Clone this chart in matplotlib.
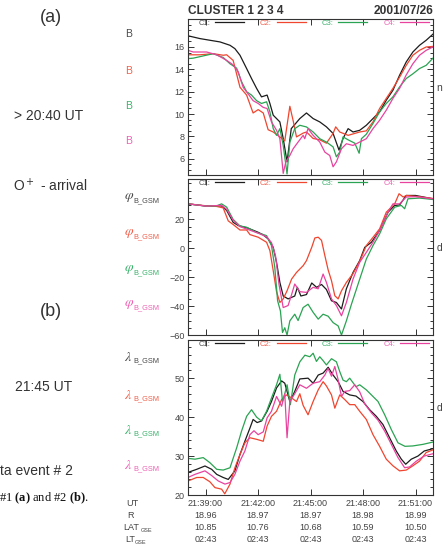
import matplotlib.pyplot as plt
from matplotlib.ticker import MultipleLocator
import matplotlib.transforms as mtransforms

plt.rcParams['font.family'] = ['Liberation Sans', 'DejaVu Sans']
plt.rcParams['mathtext.fontset'] = 'custom'
plt.rcParams['mathtext.rm'] = 'Liberation Serif'
plt.rcParams['mathtext.bf'] = 'Liberation Serif:bold'

# time axis: minutes after 21:38:00
tick_min = [1, 4, 7, 10, 13]
ut_labels = ['21:39:00', '21:42:00', '21:45:00', '21:48:00', '21:51:00']
r_values = ['18.96', '18.97', '18.97', '18.98', '18.99']
lat_values = ['10.85', '10.76', '10.68', '10.59', '10.50']
lt_values = ['02:43', '02:43', '02:43', '02:43', '02:43']

# |B| (nT)
b1_t = [0, 0.68, 1.25, 1.83, 2.40, 2.68, 2.97, 3.35, 3.63, 3.92, 4.20, 4.52, 4.68, 4.87, 5.06, 5.25, 5.44,
        5.66, 5.90, 6.39, 6.77, 7.15, 7.53, 7.91, 8.29, 8.63, 8.86, 9.15, 9.43, 9.81, 10.19, 10.57, 10.95,
        11.33, 11.71, 12.09, 12.47, 12.85, 13.23, 13.61, 14.0]
b1 = [17.0, 16.75, 16.6, 16.45, 16.15, 15.85, 15.26, 14.07, 13.18, 12.3, 11.54, 11.7, 10.95, 9.9, 9.6, 9.3,
      7.82, 5.73, 8.7, 9.6, 10.1, 9.6, 9.3, 8.86, 8.27, 6.78, 7.82, 8.7, 8.4, 8.55, 9.0, 9.6, 10.2, 11.24,
      12.13, 13.47, 14.66, 15.55, 16.15, 16.6, 17.15]
b2_t = [0, 0.68, 1.44, 2.01, 2.21, 2.58, 2.97, 3.35, 3.72, 4.01, 4.30, 4.58, 4.87, 5.25, 5.53, 5.66, 5.82,
        6.01, 6.20, 6.58, 6.77, 7.15, 7.53, 7.91, 8.29, 8.44, 8.67, 9.15, 9.81, 10.19, 10.57, 10.95, 11.33,
        11.71, 12.09, 12.47, 12.85, 13.23, 13.61, 14.0]
b2 = [15.3, 15.3, 15.4, 15.26, 15.3, 14.8, 12.4, 11.7, 10.1, 10.4, 10.1, 8.6, 8.4, 7.96, 7.6, 9.0, 10.7,
      9.4, 7.96, 8.3, 8.4, 7.82, 7.7, 7.4, 8.27, 8.86, 8.4, 8.1, 8.4, 8.5, 9.3, 10.5, 11.4, 12.3, 13.3,
      14.36, 15.26, 15.7, 16.0, 16.05]
b3_t = [0, 0.30, 1.44, 2.01, 2.40, 2.78, 3.06, 3.35, 3.63, 3.92, 4.20, 4.49, 4.68, 4.87, 5.06, 5.25, 5.44,
        5.66, 5.82, 6.10, 6.39, 6.77, 7.15, 7.53, 7.91, 8.29, 8.48, 8.67, 8.86, 9.15, 9.53, 9.78, 9.91,
        10.19, 10.57, 10.95, 11.33, 11.71, 12.09, 12.47, 12.85, 13.23, 13.61, 14.0]
b3 = [14.96, 15.0, 15.4, 15.06, 14.5, 14.1, 12.9, 12.0, 11.7, 11.2, 10.95, 11.1, 10.2, 8.7, 8.1, 8.7, 7.2,
      4.65, 7.5, 8.7, 9.0, 8.85, 8.4, 7.8, 7.5, 7.07, 6.18, 6.6, 7.96, 7.7, 7.4, 6.5, 7.8, 8.2, 9.16,
      10.2, 10.95, 11.54, 12.43, 13.18, 13.6, 14.07, 14.36, 15.0]
b4_t = [0, 0.30, 1.07, 1.64, 2.21, 2.58, 2.87, 3.15, 3.44, 3.72, 4.01, 4.30, 4.52, 4.77, 5.06, 5.25, 5.44,
        5.59, 5.82, 6.01, 6.29, 6.58, 6.67, 6.86, 7.15, 7.53, 7.82, 8.10, 8.29, 8.48, 8.77, 9.05, 9.43,
        9.81, 10.19, 10.57, 10.95, 11.33, 11.71, 12.09, 12.47, 12.85, 13.23, 13.61, 14.0]
b4 = [15.7, 15.55, 15.55, 15.3, 14.8, 14.4, 13.77, 12.4, 11.8, 11.2, 10.95, 10.6, 10.5, 9.3, 8.55, 7.8,
      4.7, 5.73, 6.3, 6.9, 7.5, 8.1, 7.8, 8.7, 8.1, 7.5, 6.6, 6.3, 5.29, 5.73, 6.9, 7.35, 7.2, 7.5, 7.8,
      8.7, 9.45, 10.35, 11.4, 12.3, 13.5, 14.5, 15.26, 15.7, 16.0]

# phi_B_GSM (deg)
p1_t = [0, 1.07, 1.92, 2.21, 2.58, 2.87, 3.44, 4.01, 4.30, 4.58, 4.87, 5.06, 5.25, 5.44, 5.72, 6.10, 6.25,
        6.45, 6.77, 7.07, 7.35, 7.63, 7.91, 8.20, 8.48, 8.77, 9.05, 9.43, 9.81, 10.10, 10.48, 10.95, 11.43,
        11.81, 12.09, 12.47, 13.0, 14.0]
p1 = [30.8, 29.2, 29.4, 26.2, 18.0, 15.8, 13.9, 11.1, 9.3, 6.5, 0.7, -9.7, -23.6, -33.0, -35.0, -33.0,
      -27.0, -33.0, -32.0, -24.0, -27.0, -25.0, -28.5, -36.3, -37.5, -42.0, -28.0, -16.7, -8.5, 0.7, 4.2,
      12.3, 25.0, 29.7, 30.0, 36.6, 36.6, 34.3]
p2_t = [0, 1.07, 1.64, 2.01, 2.30, 2.58, 2.97, 3.35, 3.54, 4.01, 4.49, 4.68, 4.87, 5.06, 5.25, 5.44, 5.66,
        5.92, 6.20, 6.58, 6.77, 7.07, 7.25, 7.44, 7.63, 7.82, 8.01, 8.20, 8.39, 8.58, 8.77, 9.05, 9.43,
        9.81, 10.19, 10.57, 10.95, 11.33, 11.62, 11.81, 12.06, 12.3, 12.47, 13.0, 14.0]
p2 = [30.8, 29.4, 29.0, 28.0, 19.0, 16.5, 12.7, 12.7, 9.5, 7.7, 4.2, -1.6, -15.5, -30.0, -37.5, -35.0,
      -29.4, -21.3, -16.7, -12.0, -8.5, 0.7, 7.2, 7.7, 5.5, -5.0, -15.0, -22.4, -32.8, -35.0, -29.4,
      -23.6, -17.5, -9.0, 1.9, 7.6, 13.5, 25.0, 28.5, 30.8, 37.8, 35.5, 36.6, 36.0, 34.5]
p3_t = [0, 1.07, 1.64, 1.92, 2.21, 2.58, 2.97, 3.35, 3.92, 4.49, 4.77, 4.96, 5.12, 5.28, 5.40, 5.53, 5.66,
        5.82, 6.10, 6.29, 6.58, 6.86, 7.15, 7.44, 7.72, 8.01, 8.29, 8.58, 8.77, 9.05, 9.34, 9.72, 10.19,
        10.57, 10.95, 11.33, 11.81, 12.19, 12.38, 12.57, 13.23, 14.0]
p3 = [30.8, 29.2, 29.4, 30.8, 28.5, 20.0, 15.5, 14.6, 11.0, 8.8, 1.9, -13.2, -36.3, -43.3, -58.3, -55.0,
      -60.0, -50.2, -45.6, -50.0, -41.0, -38.7, -44.3, -49.0, -45.6, -47.0, -51.4, -53.7, -60.0, -50.2,
      -38.7, -24.7, -7.4, 1.9, 10.0, 20.4, 28.5, 29.7, 27.4, 34.3, 34.8, 33.8]
p4_t = [0, 1.07, 1.92, 2.21, 2.58, 2.97, 3.44, 4.01, 4.49, 4.77, 5.0, 5.2, 5.44, 5.72, 5.92, 6.10, 6.39,
        6.77, 7.15, 7.44, 7.72, 7.91, 8.20, 8.48, 8.77, 9.05, 9.43, 9.81, 10.19, 10.57, 11.0, 11.43, 11.71,
        12.09, 12.47, 13.0, 14.0]
p4 = [30.8, 29.2, 29.8, 27.0, 19.5, 15.0, 13.0, 10.5, 8.0, 4.0, -5.0, -25.0, -41.0, -39.6, -32.0, -24.7,
      -30.0, -30.5, -27.0, -28.0, -17.8, -23.6, -35.0, -39.6, -46.7, -37.5, -21.3, -9.7, -2.8, 4.2, 13.5,
      25.0, 30.8, 30.8, 35.5, 35.8, 34.3]

# lambda_B_GSM (deg)
l1_t = [0, 0.5, 0.97, 1.35, 1.64, 2.01, 2.3, 2.68, 2.97, 3.25, 3.54, 3.72, 3.95, 4.2, 4.52, 4.77, 5.06,
        5.35, 5.53, 5.82, 6.1, 6.39, 6.86, 7.15, 7.44, 7.72, 8.01, 8.29, 8.58, 8.86, 9.24, 9.6, 10.0,
        10.38, 10.76, 11.14, 11.52, 11.9, 12.19, 12.44, 12.76, 13.14, 13.5, 14.0]
l1 = [25.8, 26.6, 27.45, 26.6, 25.3, 24.5, 24.0, 26.2, 30.4, 33.8, 37.2, 39.4, 38.6, 39.0, 41.5, 44.0,
      47.5, 49.3, 48.7, 44.0, 46.6, 49.8, 50.0, 48.7, 50.8, 51.3, 52.8, 50.8, 49.1, 46.6, 45.7, 45.4, 44.0,
      41.9, 40.2, 38.1, 34.7, 31.3, 29.2, 27.9, 29.2, 30.0, 31.3, 31.9]
l2_t = [0, 0.5, 0.87, 1.25, 1.54, 1.92, 2.1, 2.4, 2.68, 2.97, 3.25, 3.54, 3.92, 4.3, 4.52, 4.77, 5.06,
        5.35, 5.62, 5.9, 6.2, 6.39, 6.58, 6.86, 7.15, 7.44, 7.72, 7.91, 8.2, 8.39, 8.67, 8.96, 9.24, 9.53,
        9.81, 10.19, 10.57, 10.95, 11.33, 11.71, 12.09, 12.47, 12.85, 13.23, 13.61, 14.0]
l2 = [23.6, 24.5, 24.5, 23.4, 21.9, 21.5, 20.3, 22.8, 27.0, 30.4, 33.4, 34.7, 34.3, 33.8, 37.7, 40.2,
      41.5, 44.5, 45.7, 45.0, 44.0, 46.0, 43.0, 40.6, 44.0, 47.0, 49.1, 48.0, 45.7, 42.3, 45.7, 44.5, 43.2,
      43.2, 41.5, 39.4, 35.5, 32.5, 29.2, 27.5, 26.2, 26.4, 27.5, 28.7, 30.9, 31.6]
l3_t = [0, 0.4, 0.87, 1.25, 1.64, 2.01, 2.4, 2.78, 3.06, 3.35, 3.63, 3.92, 4.2, 4.49, 4.77, 5.06, 5.25,
        5.4, 5.53, 5.66, 5.85, 6.1, 6.39, 6.68, 6.96, 7.15, 7.34, 7.53, 7.72, 7.91, 8.2, 8.48, 8.67, 8.86,
        9.05, 9.24, 9.6, 9.81, 10.19, 10.48, 10.86, 11.24, 11.62, 12.0, 12.4, 12.85, 13.42, 14.0]
l3 = [29.4, 29.2, 29.6, 28.3, 26.6, 26.4, 27.0, 32.1, 36.4, 40.2, 41.9, 40.0, 39.0, 41.5, 44.9, 48.3,
      51.0, 44.0, 46.0, 48.3, 43.2, 50.8, 54.2, 55.9, 55.5, 56.4, 54.3, 55.5, 54.5, 53.4, 55.0, 54.2, 51.7,
      49.5, 49.1, 50.0, 47.8, 48.3, 47.0, 45.7, 44.0, 40.6, 36.8, 33.4, 32.5, 32.6, 33.0, 33.6]
l4_t = [0, 0.4, 0.97, 1.35, 1.73, 2.11, 2.4, 2.68, 2.97, 3.25, 3.54, 3.77, 4.01, 4.3, 4.52, 4.77, 5.06,
        5.35, 5.53, 5.66, 5.82, 6.1, 6.39, 6.77, 7.15, 7.53, 7.82, 8.0, 8.2, 8.39, 8.58, 8.77, 8.96, 9.24,
        9.53, 9.81, 10.1, 10.48, 10.86, 11.24, 11.62, 12.0, 12.38, 12.66, 13.05, 13.5, 14.0]
l4 = [24.5, 25.3, 26.2, 25.0, 23.6, 22.8, 23.2, 25.3, 28.7, 31.3, 35.5, 36.5, 35.5, 36.2, 39.8, 41.5,
      45.3, 42.8, 46.0, 34.7, 44.0, 46.0, 48.3, 47.4, 48.7, 49.1, 50.8, 52.5, 50.5, 53.0, 49.6, 45.3,
      46.6, 46.8, 48.3, 46.5, 43.4, 41.1, 39.2, 36.4, 33.0, 29.6, 27.0, 27.2, 28.7, 30.0, 30.6]

line_colors = ['#1c1c1c', '#f0452e', '#2aa352', '#e8439f']
label_colors = ['#4a4a4a', '#f2604c', '#3bb26c', '#ee62b4']
names = ['C1:', 'C2:', 'C3:', 'C4:']
W, H = 443, 554


def fx(x):
    return x / W


def fy(y):
    return 1 - y / H


fig = plt.figure(figsize=(W / 100, H / 100), dpi=100)
aw = (433 - 188) / W
ax1 = fig.add_axes([fx(188), fy(174.5), aw, (174.5 - 19) / H])
ax2 = fig.add_axes([fx(188), fy(335), aw, (335 - 179) / H])
ax3 = fig.add_axes([fx(188), fy(495), aw, (495 - 340) / H])

panels = [
    (ax1, [(b1_t, b1), (b2_t, b2), (b3_t, b3), (b4_t, b4)], (4.6, 18.5), [6, 8, 10, 12, 14, 16], 0.5),
    (ax2, [(p1_t, p1), (p2_t, p2), (p3_t, p3), (p4_t, p4)], (-60, 48), [-60, -40, -20, 0, 20], 5),
    (ax3, [(l1_t, l1), (l2_t, l2), (l3_t, l3), (l4_t, l4)], (20, 59.8), [20, 30, 40, 50], 2),
]

for ax, series, ylim, yticks, minor in panels:
    for (t, v), c, n in zip(series, line_colors, names):
        ax.plot(t, v, color=c, lw=0.9, label=n)
    ax.set_xlim(0, 14)
    ax.set_ylim(*ylim)
    ax.set_yticks(yticks)
    ax.yaxis.set_minor_locator(MultipleLocator(minor))
    ax.set_xticks(tick_min)
    ax.set_xticklabels([])
    ax.tick_params(which='both', direction='in', top=True, right=True, colors='#333333',
                   labelcolor='#444444', labelsize=6.5, pad=2.5, width=0.7)
    ax.tick_params(which='major', length=4)
    ax.tick_params(which='minor', length=2)
    for s in ax.spines.values():
        s.set_color('#333333')
        s.set_linewidth(0.8)
    ax.legend(loc='upper left', bbox_to_anchor=(0.037, 1.005), ncol=4, frameon=False, markerfirst=False,
              fontsize=5.5, handlelength=3.8, handletextpad=0.6, columnspacing=2.1, borderaxespad=0,
              borderpad=0.2, labelcolor=label_colors)

# header
fig.text(fx(188), fy(11), 'CLUSTER 1 2 3 4', fontsize=8.6, fontweight='bold', color='#333333',
         ha='left', va='center')
fig.text(fx(433), fy(11), '2001/07/26', fontsize=8.6, fontweight='bold', color='#333333',
         ha='right', va='center')

# unit labels at the right edge (only their first letter fits in the frame)
for y, s in [(88, 'n'), (248, 'd'), (408, 'd')]:
    fig.text(fx(436.5), fy(y), s, fontsize=7.5, color='#444444', ha='left', va='center')

# parameter labels left of panels
for y, c in zip([34, 71, 106, 141], label_colors):
    fig.text(fx(125), fy(y), 'B', fontsize=7.5, color=c, ha='left', va='center')
for greek, ys in [(r'$\varphi$', [197, 233, 269, 304]), (r'$\lambda$', [357, 395, 430, 465])]:
    for y, c in zip(ys, label_colors):
        fig.text(fx(123.5), fy(y), greek, fontsize=10, color=c, ha='left', va='center',
                 math_fontfamily='stix')
        fig.text(fx(133), fy(y + 3.5), 'B_GSM', fontsize=5.3, color=c, ha='left', va='center')

# orbit rows under the bottom panel
trans = mtransforms.blended_transform_factory(ax3.transData, fig.transFigure)
rows = [(504, 'UT', 126, ut_labels), (516, 'R', 127.5, r_values),
        (528, 'LAT', 123, lat_values), (540, 'LT', 125, lt_values)]
for y, name, x0, vals in rows:
    t0 = fig.text(fx(x0), fy(y), name, fontsize=6.5, color='#444444', ha='left', va='center')
    for t, s in zip(tick_min, vals):
        ax3.text(t, fy(y), s, transform=trans, fontsize=6.5, color='#444444', ha='center', va='center')
fig.text(fx(140.5), fy(530.5), 'GSE', fontsize=4, color='#444444', ha='left', va='center')
fig.text(fx(134.5), fy(542.5), 'GSE', fontsize=4, color='#444444', ha='left', va='center')

# side annotations
fig.text(fx(51), fy(18), '(a)', fontsize=13, color='#333333', ha='center', va='center')
fig.text(fx(14), fy(116), '> 20:40 UT', fontsize=10, color='#333333', ha='left', va='center')
fig.text(fx(13), fy(186), 'O$^+$ - arrival', fontsize=10, color='#333333', ha='left', va='center',
         math_fontfamily='dejavusans')
fig.text(fx(51), fy(311), '(b)', fontsize=13, color='#333333', ha='center', va='center')
fig.text(fx(15), fy(387), '21:45 UT', fontsize=10, color='#333333', ha='left', va='center')
fig.text(fx(0), fy(471), 'ta event # 2', fontsize=10, color='#333333', ha='left', va='center')
fig.text(fx(-1), fy(498), r'#1 $\mathbf{(a)}$ and #2 $\mathbf{(b)}$.', fontsize=9, color='#111111',
         ha='left', va='center', family='Liberation Serif', math_fontfamily='custom')

fig.savefig('out.png', dpi=100)
